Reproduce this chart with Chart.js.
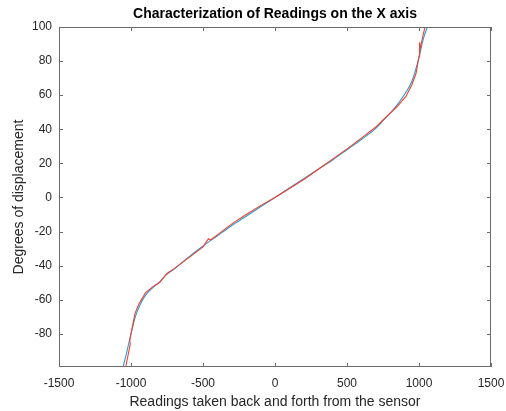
<!DOCTYPE html>
<html>
<head>
<meta charset="utf-8">
<script src="https://cdn.jsdelivr.net/npm/chart.js@4.4.0/dist/chart.umd.min.js"></script>
<style>
    html, body { margin: 0; padding: 0; background: #fff; }
    #wrap { width: 506px; height: 411px; }
</style>
</head>
<body>
<div id="wrap"><canvas id="grafico" width="506" height="411"></canvas></div>
<script>
// Dados
const xTicks = [-1500, -1000, -500, 0, 500, 1000, 1500];
const yTicks = [-80, -60, -40, -20, 0, 20, 40, 60, 80, 100];

// Leituras medidas (vermelho)
const medidoX = [-1037, -1005, -1009, -972, -945, -900, -850, -800, -752, -700, -600, -500, -472, -462, -448, -400, -300, -200, -100, 0, 100, 200, 300, 400, 500, 600, 700, 745, 800, 850, 910, 950, 980, 1000, 1004, 1008, 1025, 1042];
const medidoY = [-99.5, -86, -84, -68, -62.5, -56, -52.5, -49.8, -44.8, -41.8, -35.5, -29, -25.5, -24.3, -25, -22, -15.5, -10, -4.8, 0, 5.2, 10.5, 16.5, 22.5, 28.5, 34.8, 41.3, 45, 49.5, 53.5, 59.4, 66, 73, 83, 91, 87, 94, 100];

// Curva ajustada (azul)
const ajusteX = [-1055, -1030, -1000, -970, -940, -900, -850, -800, -750, -700, -600, -500, -400, -300, -200, -100, 0, 100, 200, 300, 400, 500, 600, 700, 750, 800, 850, 900, 950, 1000, 1030, 1058];
const ajusteY = [-99.5, -91, -80, -70, -63.5, -57.5, -53, -49.5, -45, -42, -35, -28.5, -22.5, -16.5, -11, -5.5, 0, 5.5, 11, 16.5, 22, 28, 34, 40.5, 45, 49.5, 54.5, 60.5, 68, 82, 93, 100];

const toPoints = (xs, ys) => xs.map((x, i) => ({ x: x, y: ys[i] }));

const corTexto = '#262626';
const corEixo = '#6b6b6b';
const fonte = '"Liberation Sans", Arial, sans-serif';

// Moldura, ticks internos e textos (estilo MATLAB)
const molduraPlugin = {
    id: 'moldura',
    afterDraw(chart) {
        const { ctx, chartArea: a, scales } = chart;
        ctx.save();
        ctx.strokeStyle = corEixo;
        ctx.lineWidth = 1;
        ctx.strokeRect(a.left + 0.5, a.top + 0.5, a.right - a.left - 1, a.bottom - a.top - 1);
        ctx.beginPath();
        const len = 4;
        xTicks.forEach(v => {
            const px = Math.round(scales.x.getPixelForValue(v)) + 0.5;
            ctx.moveTo(px, a.bottom); ctx.lineTo(px, a.bottom - len);
            ctx.moveTo(px, a.top); ctx.lineTo(px, a.top + len);
        });
        yTicks.forEach(v => {
            const py = Math.round(scales.y.getPixelForValue(v)) + 0.5;
            ctx.moveTo(a.left, py); ctx.lineTo(a.left + len, py);
            ctx.moveTo(a.right, py); ctx.lineTo(a.right - len, py);
        });
        ctx.stroke();

        const cx = (a.left + a.right) / 2;
        ctx.fillStyle = '#000';
        ctx.textAlign = 'center';
        ctx.textBaseline = 'middle';
        ctx.font = 'bold 14px ' + fonte;
        ctx.fillText('Characterization of Readings on the X axis', cx, 14);

        ctx.fillStyle = corTexto;
        ctx.font = '14px ' + fonte;
        ctx.fillText('Readings taken back and forth from the sensor', cx, 402);

        ctx.translate(19, (a.top + a.bottom) / 2);
        ctx.rotate(-Math.PI / 2);
        ctx.fillText('Degrees of displacement', 0, 0);
        ctx.restore();
    }
};

const ctx = document.getElementById('grafico').getContext('2d');
new Chart(ctx, {
    type: 'scatter',
    data: {
        datasets: [
            {
                label: 'Leituras',
                data: toPoints(medidoX, medidoY),
                showLine: true,
                borderColor: '#f2402c',
                borderWidth: 1.1,
                pointRadius: 0,
                tension: 0
            },
            {
                label: 'Ajuste',
                data: toPoints(ajusteX, ajusteY),
                showLine: true,
                borderColor: '#2c9ad6',
                borderWidth: 1.1,
                pointRadius: 0,
                cubicInterpolationMode: 'monotone'
            }
        ]
    },
    options: {
        responsive: false,
        animation: false,
        layout: { padding: { top: 27, right: 15, left: 0, bottom: 0 } },
        plugins: {
            legend: { display: false },
            tooltip: { enabled: false }
        },
        scales: {
            x: {
                type: 'linear',
                min: -1500,
                max: 1500,
                afterBuildTicks: s => { s.ticks = xTicks.map(v => ({ value: v })); },
                afterFit: s => { s.height = 44; s.paddingLeft = 0; s.paddingRight = 0; },
                grid: { display: false, drawTicks: false },
                border: { display: false },
                ticks: { color: corTexto, font: { size: 12, family: fonte }, padding: 9, maxRotation: 0, callback: v => String(v) }
            },
            y: {
                type: 'linear',
                min: -99.5,
                max: 100,
                afterBuildTicks: s => { s.ticks = yTicks.map(v => ({ value: v })); },
                afterFit: s => { s.width = 59; s.paddingTop = 0; s.paddingBottom = 0; },
                grid: { display: false, drawTicks: false },
                border: { display: false },
                ticks: { color: corTexto, font: { size: 12, family: fonte }, padding: 7, callback: v => String(v) }
            }
        }
    },
    plugins: [molduraPlugin]
});
</script>
</body>
</html>
